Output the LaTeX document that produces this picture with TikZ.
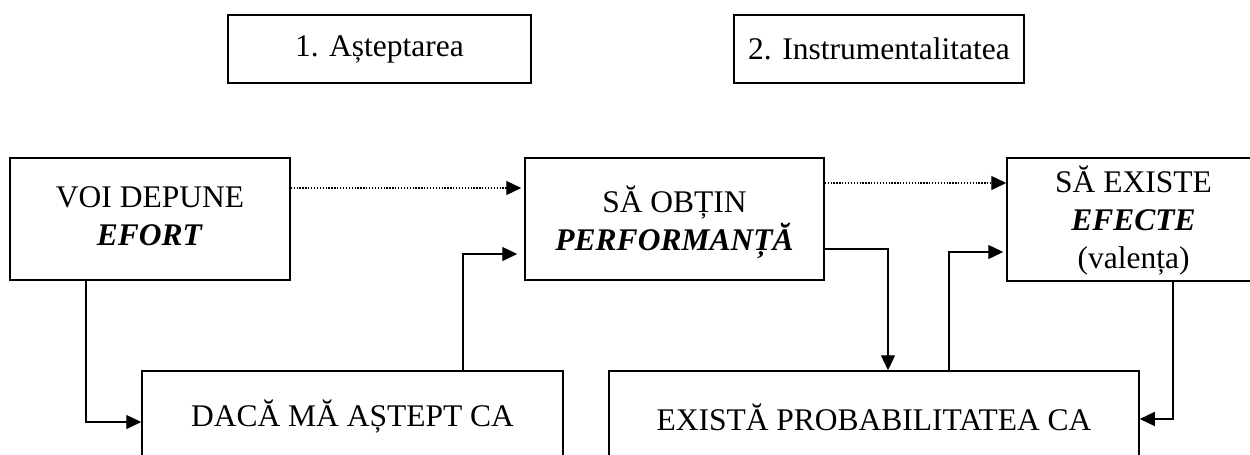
\documentclass[tikz,border=0pt]{standalone}
\usepackage{fontspec}
\setmainfont{Liberation Serif}
\usetikzlibrary{arrows.meta}
\begin{document}
\begin{tikzpicture}[x=1pt,y=-1pt,
  box/.style={draw,line width=1.5pt,rectangle,inner sep=0pt},
  txt/.style={align=center,inner sep=0pt,font=\fontsize{31.5}{38}\selectfont},
  conn/.style={line width=1.3pt,-{Triangle[length=15pt,width=14pt]}},
  dotline/.style={line width=1.3pt,dash pattern=on 1.3pt off 1.6pt,-{Triangle[length=15pt,width=14pt]}}]
\useasboundingbox (0,0) rectangle (1250,455);
\clip (0,0) rectangle (1250,455);
% heading boxes
\node[box,minimum width=303pt,minimum height=68pt] (asb) at (379.5,49) {};
\node[txt] (ast) at (asb.center) {1. Așteptarea};
\node[box,minimum width=290pt,minimum height=68pt] (insb) at (879,49) {};
\node[txt] (inst) at (insb.center) {2. Instrumentalitatea};
% middle row
\node[box,minimum width=280pt,minimum height=122pt] (ef) at (150,219) {};
\node[txt] (eft) at (150,216.5) {VOI DEPUNE\\\textbf{\textit{EFORT}}};
\node[box,minimum width=299pt,minimum height=122pt] (obt) at (674.5,219) {};
\node[txt] (obtt) at (674.5,222) {SĂ OBȚIN\\\textbf{\textit{PERFORMANȚĂ}}};
\node[box,minimum width=253pt,minimum height=123pt] (efe) at (1133.5,219.5) {};
\node[txt] (efet) at (1133.5,220.5) {SĂ EXISTE\\\textbf{\textit{EFECTE}}\\(valența)};
% bottom row
\node[box,minimum width=421pt,minimum height=130pt] (dac) at (352.5,436) {};
\node[txt] (dact) at (352.5,417) {DACĂ MĂ AȘTEPT CA};
\node[box,minimum width=530pt,minimum height=130pt] (exi) at (874,436) {};
\node[txt] (exit) at (874,417) {EXISTĂ PROBABILITATEA CA};
% bend points
\coordinate (k1) at (86,422);
\coordinate (k2) at (463,254);
\coordinate (k3) at (888,249);
\coordinate (k4) at (949,252);
\coordinate (k5) at (1173,419);
\coordinate (k6) at (0,188);
\coordinate (k7) at (0,183);
% connectors
\draw[dotline] (ef.east |- k6) -- ([xshift=-3pt]obt.west |- k6);
\draw[dotline] (obt.east |- k7) -- (efe.west |- k7);
\draw[conn] (ef.south -| k1) |- (dac.west |- k1);
\draw[conn,shorten >=7pt] (dac.north -| k2) |- (obt.west |- k2);
\draw[conn] (obt.east |- k3) -| (exi.north -| k3);
\draw[conn,shorten >=3pt] (exi.north -| k4) |- (efe.west |- k4);
\draw[conn] (efe.south -| k5) |- (exi.east |- k5);
\end{tikzpicture}
\end{document}
